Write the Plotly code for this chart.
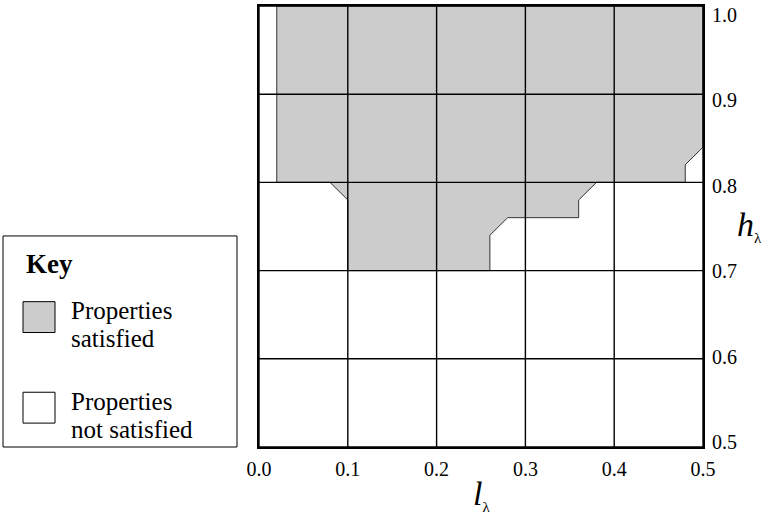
import plotly.graph_objects as go

# Region of the (l_lambda, h_lambda) plane where the properties are satisfied
region_l = [0.02, 0.50, 0.50, 0.48, 0.48, 0.38, 0.36, 0.36, 0.28, 0.26, 0.26, 0.10, 0.10, 0.08, 0.02, 0.02]
region_h = [1.00, 1.00, 0.84, 0.82, 0.80, 0.80, 0.78, 0.76, 0.76, 0.74, 0.70, 0.70, 0.78, 0.80, 0.80, 1.00]

l_ticks = [0.0, 0.1, 0.2, 0.3, 0.4, 0.5]
h_ticks = [0.5, 0.6, 0.7, 0.8, 0.9, 1.0]
l_tick_text = ["0.0", "0.1", "0.2", "0.3", "0.4", "0.5"]
h_tick_text = ["0.5", "0.6", "0.7", "0.8", "0.9", "1.0"]

key_title = "Key"
key_labels = [["Properties", "satisfied"], ["Properties", "not satisfied"]]
key_colors = ["#cccccc", "#ffffff"]

FONT = "Liberation Serif"
W, H = 766, 516
ML, MR, MT, MB = 259, 63, 4, 69
PW, PH = W - ML - MR, H - MT - MB


def px(x):
    return (x - ML) / PW


def py(y):
    return (H - MB - y) / PH


fig = go.Figure()

# shaded region
fig.add_trace(go.Scatter(
    x=region_l, y=region_h, mode="lines", fill="toself",
    fillcolor="#cccccc", line=dict(color="#333333", width=1),
    hoverinfo="skip", showlegend=False,
))

# grid drawn over the shading
gx, gy = [], []
for t in l_ticks:
    gx += [t, t, None]
    gy += [h_ticks[0], h_ticks[-1], None]
for t in h_ticks:
    gx += [l_ticks[0], l_ticks[-1], None]
    gy += [t, t, None]
fig.add_trace(go.Scatter(
    x=gx, y=gy, mode="lines", line=dict(color="black", width=1.4),
    hoverinfo="skip", showlegend=False,
))

# carrier for the right-hand tick labels
fig.add_trace(go.Scatter(
    x=[l_ticks[0]], y=[h_ticks[0]], yaxis="y2", mode="markers",
    marker=dict(opacity=0), hoverinfo="skip", showlegend=False,
))

fig.update_layout(
    width=W, height=H,
    margin=dict(l=ML, r=MR, t=MT, b=MB, pad=0),
    paper_bgcolor="white", plot_bgcolor="white",
    showlegend=False,
    font=dict(family=FONT, color="black"),
    xaxis=dict(
        range=[l_ticks[0], l_ticks[-1]], tickvals=l_ticks, ticktext=l_tick_text,
        showgrid=False, zeroline=False, ticks="",
        showline=True, linecolor="black", linewidth=2.2, mirror=True,
        tickfont=dict(family=FONT, size=20, color="black"),
        ticklabelstandoff=3, layer="above traces",
    ),
    yaxis=dict(
        range=[h_ticks[0], h_ticks[-1]], side="right",
        showgrid=False, zeroline=False, ticks="", showticklabels=False,
        showline=True, linecolor="black", linewidth=2.2, mirror=True,
        layer="above traces",
    ),
    yaxis2=dict(
        overlaying="y", side="right", range=[0.4942, 1.0105],
        tickvals=h_ticks, ticktext=h_tick_text,
        showgrid=False, zeroline=False, ticks="", showline=False,
        tickfont=dict(family=FONT, size=20, color="black"),
        ticklabelstandoff=8,
    ),
)

annotations = [
    dict(text="<i>l</i><sub><span style='font-size:15px'>λ</span></sub>",
         x=px(481), y=py(495), xref="paper", yref="paper",
         showarrow=False, font=dict(family=FONT, size=34, color="black"),
         xanchor="center", yanchor="middle"),
    dict(text="<i>h</i><sub><span style='font-size:15px'>λ</span></sub>",
         x=px(749), y=py(225), xref="paper", yref="paper",
         showarrow=False, font=dict(family=FONT, size=34, color="black"),
         xanchor="center", yanchor="middle"),
    dict(text="<b>" + key_title + "</b>", x=px(24), y=py(263),
         xref="paper", yref="paper", showarrow=False,
         font=dict(family=FONT, size=27, color="black"),
         xanchor="left", yanchor="middle"),
]

shapes = [dict(type="rect", xref="paper", yref="paper",
               x0=px(3), x1=px(237), y0=py(447), y1=py(235),
               line=dict(color="black", width=1), fillcolor="white",
               layer="above")]

swatch_tops = [301, 392]
line_gap = 28
for lines, color, top in zip(key_labels, key_colors, swatch_tops):
    shapes.append(dict(type="rect", xref="paper", yref="paper",
                       x0=px(23), x1=px(55), y0=py(top + 31), y1=py(top),
                       line=dict(color="black", width=1), fillcolor=color,
                       layer="above"))
    for j, line in enumerate(lines):
        annotations.append(dict(text=line, x=px(69), y=py(top + 9 + j * line_gap),
                                xref="paper", yref="paper", showarrow=False,
                                font=dict(family=FONT, size=25, color="black"),
                                xanchor="left", yanchor="middle"))

fig.update_layout(shapes=shapes, annotations=annotations)

fig.write_html("out.html")
